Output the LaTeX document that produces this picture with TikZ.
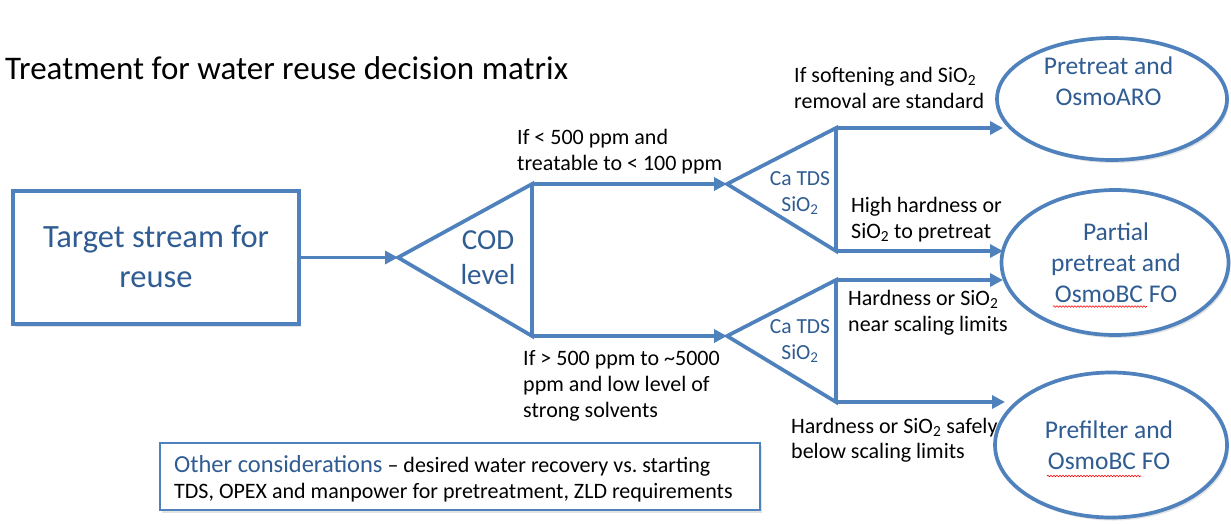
\documentclass[tikz,border=0pt]{standalone}
\usepackage{fontspec}
\setmainfont{Carlito}
\frenchspacing
\usetikzlibrary{arrows.meta,shadows,decorations.pathmorphing,shapes.geometric}
\definecolor{lineblue}{HTML}{4F81BD}
\definecolor{txtblue}{HTML}{2F5C92}
\newcommand{\tl}[1]{\begin{tabular}[t]{@{}l@{}}#1\end{tabular}}
\newcommand{\tc}[1]{\begin{tabular}[t]{@{}c@{}}#1\end{tabular}}
\begin{document}
\begin{tikzpicture}[x=1pt,y=-1pt,
  shp/.style={draw=lineblue, line width=3.7pt, line join=miter, fill=white,
    drop shadow={opacity=0.22, shadow xshift=2pt, shadow yshift=-3pt}},
  conn/.style={draw=lineblue, line width=3.7pt, -{Triangle[length=13pt,width=13pt]}},
  ell/.style={shp, ellipse, inner sep=0pt},
  txt/.style={inner sep=0pt, anchor=base},
  lbl/.style={inner sep=0pt, anchor=base west, text=black, font=\fontsize{22}{26}\selectfont},
  intxt/.style={txt, text=txtblue},
  squig/.style={draw=red, line width=0.6pt, decorate, decoration={snake, amplitude=0.8pt, segment length=3pt}}
]
\useasboundingbox (0,0) rectangle (1231,523);
\fill[white] (0,0) rectangle (1231,523);

% title
\node[inner sep=0pt, anchor=base west, font=\fontsize{33}{40}\selectfont] (title) at (5,79)
  {Treatment for water reuse decision matrix};

% main box
\node[shp, rectangle, minimum width=286pt, minimum height=133pt, inner sep=0pt] (target) at (156,257.5) {};
\node[intxt, font=\fontsize{32.5}{40}\selectfont] (targettxt) at (156,247) {\tc{Target stream for\\reuse}};

% COD triangle
\coordinate (codL) at (398,257.5);
\coordinate (codT) at (532,184);
\coordinate (codB) at (532,336);
\draw[shp] (codL) -- (codT) -- (codB) -- cycle;
\node[intxt, font=\fontsize{29}{35}\selectfont] (codtxt) at (488,249) {\tc{COD\\level}};

% upper small triangle
\coordinate (t1L) at (727,184);
\coordinate (t1T) at (836,128);
\coordinate (t1B) at (836,251);
\draw[shp] (t1L) -- (t1T) -- (t1B) -- cycle;
\node[intxt, font=\fontsize{21.5}{26.7}\selectfont] (t1txt) at (800,185) {\tc{Ca TDS\\SiO\textsubscript{2}}};

% lower small triangle
\coordinate (t2L) at (727,336);
\coordinate (t2T) at (836,280);
\coordinate (t2B) at (836,402);
\draw[shp] (t2L) -- (t2T) -- (t2B) -- cycle;
\node[intxt, font=\fontsize{21.5}{26.7}\selectfont] (t2txt) at (800,333) {\tc{Ca TDS\\SiO\textsubscript{2}}};

% ellipses
\node[ell, minimum width=230pt, minimum height=122pt] (e1) at (1112,99) {};
\node[ell, minimum width=227pt, minimum height=145pt] (e2) at (1115,262.5) {};
\node[ell, minimum width=232pt, minimum height=145pt] (e3) at (1111,445) {};
\node[intxt, font=\fontsize{25.5}{31}\selectfont] (e1txt) at (1108.5,74) {\tc{Pretreat and\\OsmoARO}};
\node[intxt, font=\fontsize{25.5}{31}\selectfont] (e2txt) at (1116,240) {\tc{Partial\\pretreat and\\OsmoBC FO}};
\node[intxt, font=\fontsize{25.5}{31.5}\selectfont] (e3txt) at (1109,438) {\tc{Prefilter and\\OsmoBC FO}};
\draw[squig] (1053,306.5) -- (1147,306.5);
\draw[squig] (1047,476) -- (1141,476);

% arrow end points
\coordinate (e1in) at (1003,128);
\coordinate (e2inA) at (1003,251);
\coordinate (e2inB) at (1003,280);
\coordinate (e3in) at (1005,402);

% connectors
\draw[conn] (target.east) -- (codL);
\draw[conn] (codT) -- (t1L);
\draw[conn] (codB) -- (t2L);
\draw[conn] (t1T) -- (e1in);
\draw[conn] (t1B) -- (e2inA);
\draw[conn] (t2T) -- (e2inB);
\draw[conn] (t2B) -- (e3in);

% branch labels
\node[lbl, font=\fontsize{22}{26.7}\selectfont] (lab1) at (517,144) {\tl{If < 500 ppm and\\treatable to < 100 ppm}};
\node[lbl] (lab2) at (523,365) {\tl{If > 500 ppm to \textasciitilde 5000\\ppm and low level of\\strong solvents}};
\node[lbl] (lab3) at (794,82) {\tl{If softening and SiO\textsubscript{2}\\removal are standard}};
\node[lbl] (lab4) at (851,212) {\tl{High hardness or\\SiO\textsubscript{2} to pretreat}};
\node[lbl] (lab5) at (848,305) {\tl{Hardness or SiO\textsubscript{2}\\near scaling limits}};
\node[lbl, font=\fontsize{22}{25.5}\selectfont] (lab6) at (791,433) {\tl{Hardness or SiO\textsubscript{2} safely\\below scaling limits}};

% other considerations box
\node[draw=lineblue, line width=1.8pt, fill=white, rectangle, minimum width=600pt, minimum height=67pt, inner sep=0pt,
  drop shadow={opacity=0.22, shadow xshift=2pt, shadow yshift=-3pt}] (other) at (460,476.5) {};
\node[inner sep=0pt, anchor=base west, font=\fontsize{22}{26.6}\selectfont] (othertxt) at (174,472)
  {\tl{{\color{txtblue}\fontsize{24.5}{26.6}\selectfont Other considerations} -- desired water recovery vs. starting\\TDS, OPEX and manpower for pretreatment, ZLD requirements}};
\end{tikzpicture}
\end{document}
